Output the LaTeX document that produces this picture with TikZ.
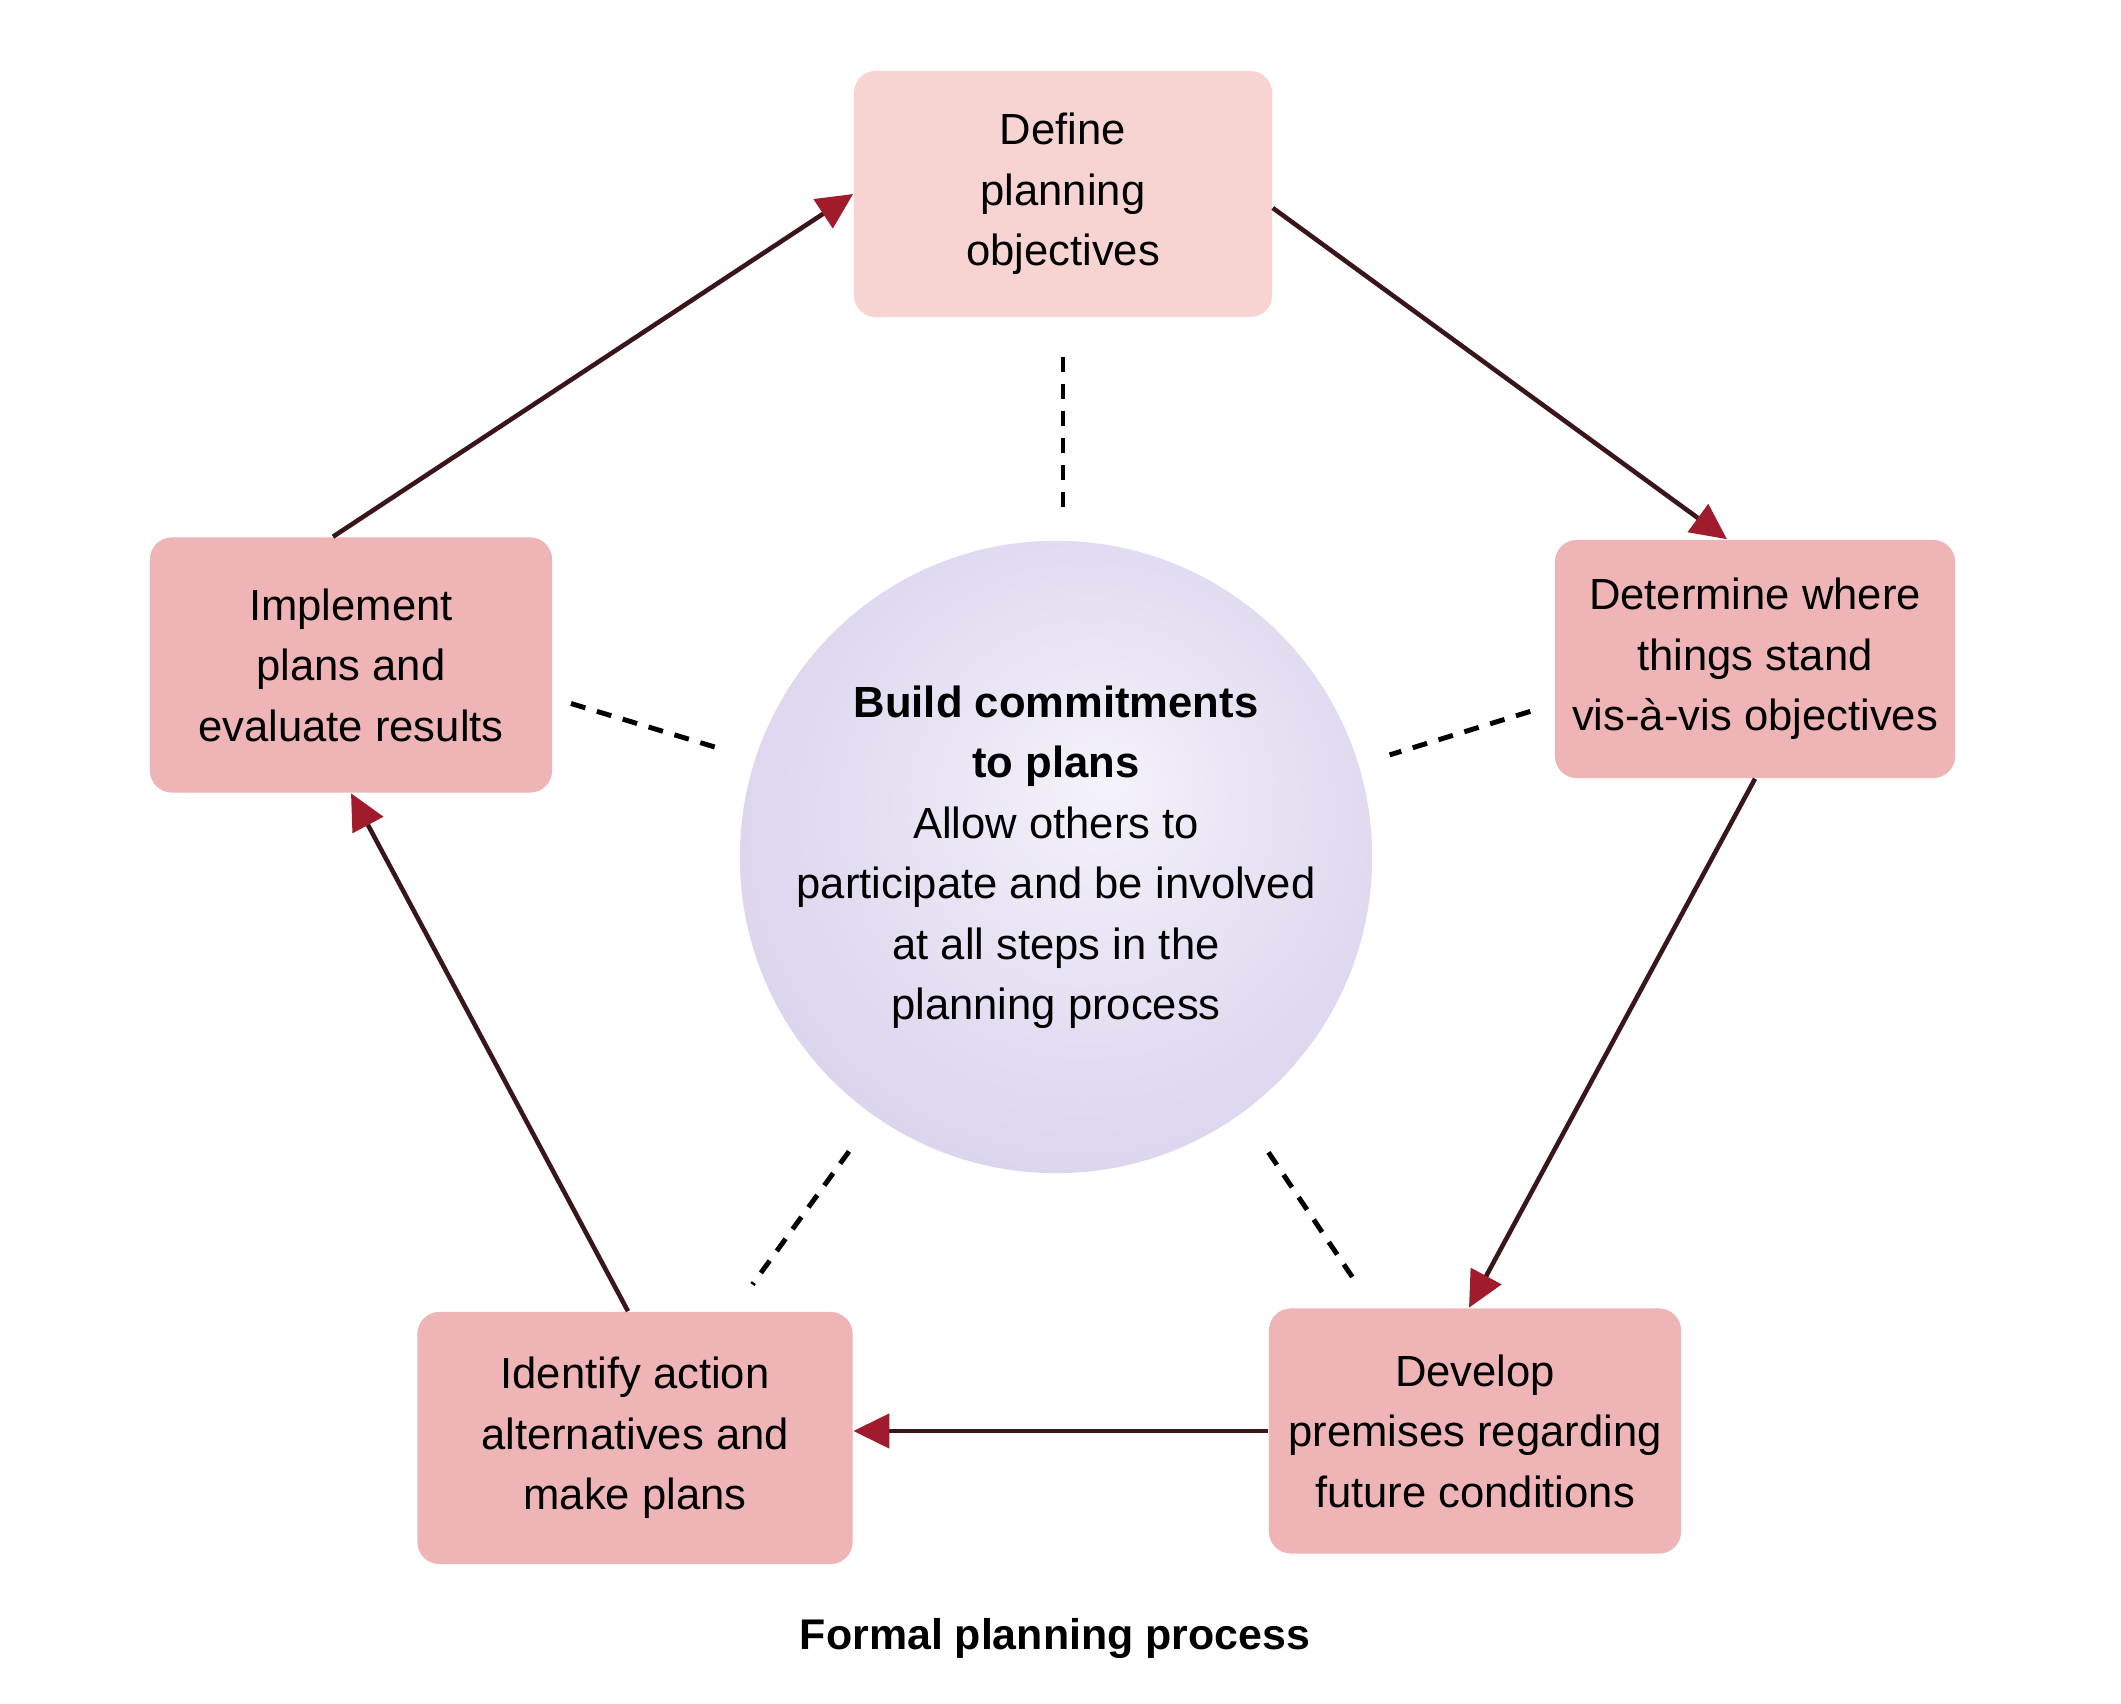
\documentclass[tikz,border=0pt]{standalone}
\usepackage{fontspec}
\setmainfont{Liberation Sans}
\usetikzlibrary{arrows.meta,calc}
\definecolor{boxpink}{RGB}{238,180,182}
\definecolor{boxlight}{RGB}{247,212,210}
\definecolor{arrowred}{RGB}{160,28,44}
\definecolor{linedark}{RGB}{58,22,26}
\definecolor{ballA}{RGB}{244,242,250}
\definecolor{ballB}{RGB}{228,222,242}
\definecolor{ballC}{RGB}{212,204,234}
\definecolor{ballD}{RGB}{192,186,220}
\pgfdeclareradialshading{ballshade}{\pgfpoint{4bp}{6bp}}{color(0bp)=(ballA); color(18bp)=(ballB); color(38bp)=(ballC); color(50bp)=(ballD)}
\begin{document}
\begin{tikzpicture}[x=0.01cm,y=-0.01cm,
  stepbox/.style={fill=boxpink, rounded corners=0.22cm, align=center,
    font=\fontsize{12.4}{17.2}\selectfont, inner sep=0pt},
  flow/.style={draw=linedark, line width=1.3pt,
    -{Triangle[length=0.36cm,width=0.34cm,fill=arrowred,color=arrowred]}},
  dashline/.style={draw=black, line width=1.4pt, dash pattern=on 0.15cm off 0.12cm}
]
\useasboundingbox (0,0) rectangle (2121,1704);
\fill[white] (0,0) rectangle (2121,1704);

\node[stepbox, fill=boxlight, minimum width=4.18cm, minimum height=2.46cm] (def) at (1063,194)
  {Define\\planning\\objectives};
\node[stepbox, minimum width=4.00cm, minimum height=2.38cm] (det) at (1755,659)
  {Determine where\\things stand\\vis-à-vis objectives};
\node[stepbox, minimum width=4.12cm, minimum height=2.45cm] (dev) at (1475,1431)
  {Develop\\premises regarding\\future conditions};
\node[stepbox, minimum width=4.35cm, minimum height=2.52cm] (ident) at (635,1438)
  {Identify action\\alternatives and\\make plans};
\node[stepbox, minimum width=4.02cm, minimum height=2.55cm] (impl) at (351,665)
  {Implement\\plans and\\evaluate results};

\node[circle, minimum size=6.32cm, inner sep=0pt, shading=ballshade,
  align=center, font=\fontsize{12.4}{17.2}\selectfont] (circ) at (1056,857)
  {\textbf{Build commitments}\\\textbf{to plans}\\Allow others to\\participate and be involved\\at all steps in the\\planning process};

\node[font=\bfseries\fontsize{12.2}{14}\selectfont] (title) at (1055,1638) {Formal planning process};

\draw[flow] ([xshift=-0.18cm]impl.north) -- (def.west);
\draw[flow] ([yshift=-0.14cm]def.east) -- ([xshift=-0.28cm]det.north);
\draw[flow] (det.south) -- ([xshift=-0.06cm]dev.north);
\draw[flow] (dev.west) -- (dev.west -| ident.east);
\draw[flow] ([xshift=-0.07cm]ident.north) -- (impl.south);

\draw[dashline, shorten <=0.39cm, shorten >=0.22cm] (def.south) -- (def.south |- circ.north);
\draw[dashline, shorten <=0.25cm, shorten >=0.32cm] ([yshift=-0.45cm]det.west) -- (circ.17);
\draw[dashline, shorten <=0.19cm, shorten >=0.32cm] ([yshift=-0.33cm]impl.east) -- (circ.162);
\draw[dashline, shorten <=0.43cm, shorten >=0.33cm] (circ.235) -- ([xshift=0.98cm]ident.north);
\draw[dashline, shorten <=0.47cm, shorten >=0.36cm] (circ.306) -- ([xshift=-1.02cm]dev.north);
\end{tikzpicture}
\end{document}
